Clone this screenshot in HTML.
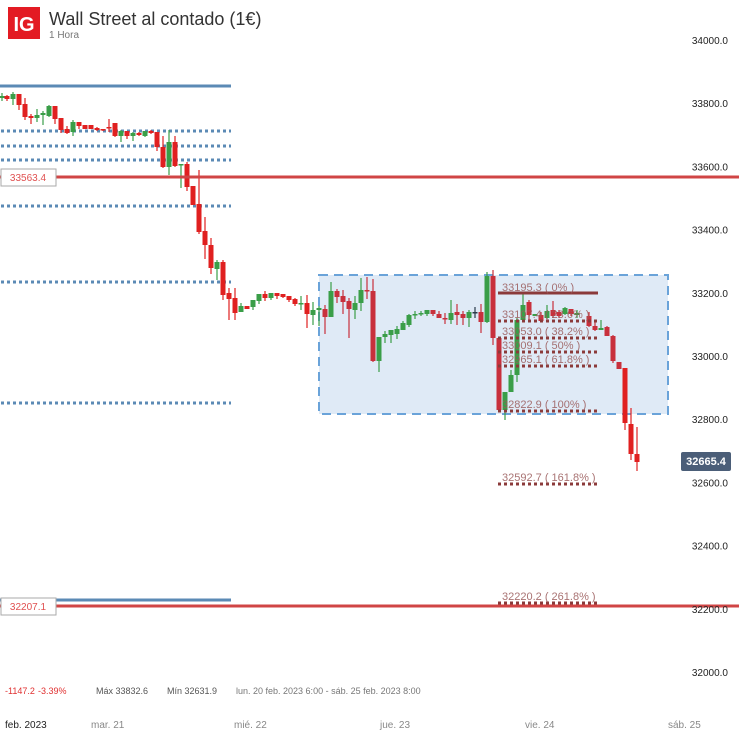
<!DOCTYPE html>
<html><head><meta charset="utf-8"><style>
body{margin:0;background:#fff;width:739px;height:734px;overflow:hidden;font-family:"Liberation Sans",sans-serif}
svg{display:block}
</style></head><body>
<svg id="s" width="739" height="734" xmlns="http://www.w3.org/2000/svg" font-family="Liberation Sans, sans-serif">
<rect x="8" y="7" width="32" height="32" fill="#e31b23"/>
<text x="24" y="31" fill="#fff" font-size="20" font-weight="bold" text-anchor="middle">IG</text>
<text x="49" y="25" fill="#333" font-size="18">Wall Street al contado (1€)</text>
<text x="49" y="38" fill="#777" font-size="10">1 Hora</text>
<rect x="319" y="275" width="349" height="139" fill="#dfeaf6" stroke="#6aa3d9" stroke-width="2" stroke-dasharray="9,6"/>
<g stroke="#5b8ab5" stroke-width="3">
<line x1="0" y1="86" x2="231" y2="86"/>
<line x1="0" y1="600" x2="231" y2="600"/>
</g>
<g stroke="#5b8ab5" stroke-width="3" stroke-dasharray="3,3">
<line x1="1" y1="131" x2="231" y2="131"/><line x1="1" y1="146" x2="231" y2="146"/>
<line x1="1" y1="160" x2="231" y2="160"/><line x1="1" y1="206" x2="231" y2="206"/>
<line x1="1" y1="282" x2="231" y2="282"/><line x1="1" y1="403" x2="231" y2="403"/>
</g>
<g id="c"></g>
<g stroke="#d04545" stroke-width="3">
<line x1="0" y1="177" x2="739" y2="177"/>
<line x1="0" y1="606" x2="739" y2="606"/>
</g>
<rect x="1" y="169" width="55" height="17" fill="#fff" stroke="#aaa"/>
<text x="28" y="181" fill="#e05050" font-size="10" text-anchor="middle">33563.4</text>
<rect x="1" y="598" width="55" height="17" fill="#fff" stroke="#aaa"/>
<text x="28" y="610" fill="#e05050" font-size="10" text-anchor="middle">32207.1</text>
<line x1="498" y1="293" x2="598" y2="293" stroke="#8b3a3a" stroke-width="3"/>
<g stroke="#8b3a3a" stroke-width="3" stroke-dasharray="3,3">
<line x1="498" y1="321" x2="597" y2="321"/><line x1="498" y1="338" x2="597" y2="338"/>
<line x1="498" y1="352" x2="597" y2="352"/><line x1="498" y1="366" x2="597" y2="366"/>
<line x1="498" y1="411" x2="597" y2="411"/><line x1="498" y1="484" x2="597" y2="484"/>
<line x1="498" y1="603" x2="597" y2="603"/>
</g>
<g fill="#9a5a5a" font-size="11" opacity="0.85">
<text x="502" y="291">33195.3 ( 0% )</text>
<text x="502" y="318">33107.4 ( 23.6% )</text>
<text x="502" y="335">33053.0 ( 38.2% )</text>
<text x="502" y="349">33009.1 ( 50% )</text>
<text x="502" y="363">32965.1 ( 61.8% )</text>
<text x="502" y="408">32822.9 ( 100% )</text>
<text x="502" y="481">32592.7 ( 161.8% )</text>
<text x="502" y="600">32220.2 ( 261.8% )</text>
</g>
<g fill="#222" font-size="10" text-anchor="end" id="ax"></g>
<rect x="681" y="452" width="50" height="19" rx="2" fill="#4b5e78"/>
<text x="706" y="465" fill="#fff" font-size="11" font-weight="bold" text-anchor="middle">32665.4</text>
<g font-size="9">
<text x="5" y="694" fill="#e03030">-1147.2</text>
<text x="38" y="694" fill="#e03030">-3.39%</text>
<text x="96" y="694" fill="#555">Máx 33832.6</text>
<text x="167" y="694" fill="#555">Mín 32631.9</text>
<text x="236" y="694" fill="#777">lun. 20 feb. 2023 6:00 - sáb. 25 feb. 2023 8:00</text>
</g>
<g font-size="10" fill="#888">
<text x="5" y="728" fill="#222">feb. 2023</text>
<text x="91" y="728">mar. 21</text>
<text x="234" y="728">mié. 22</text>
<text x="380" y="728">jue. 23</text>
<text x="525" y="728">vie. 24</text>
<text x="668" y="728">sáb. 25</text>
</g>
</svg>
<script>
var ax=document.getElementById('ax'),ns='http://www.w3.org/2000/svg';
for(var k=0;k<=10;k++){var t=document.createElementNS(ns,'text');t.setAttribute('x',728);t.setAttribute('y',44+k*63.2);t.textContent=(34000-k*200).toFixed(1);ax.appendChild(t);}
// x,top,bottom,wickTop,wickBottom,color(g/r/k)
var C=[[2,96,98,93,101,'g'],[7,96,99,95,101,'r'],[13,94,99,92,105,'g'],[19,94,105,94,110,'r'],[25,104,117,98,120,'r'],[31,116,118,114,124,'r'],[37,115,118,109,122,'g'],[43,113,115,111,125,'g'],[49,106,116,105,117,'g'],[55,106,119,106,124,'r'],[61,118,130,118,133,'r'],[67,129,133,126,134,'r'],[73,122,132,120,136,'g'],[79,122,126,122,129,'r'],[85,125,129,125,129,'r'],[91,125,129,125,129,'r'],[97,128,130,127,131,'r'],[103,129,130,129,131,'r'],[109,127,128,119,132,'r'],[115,123,136,123,137,'r'],[121,131,136,130,142,'g'],[127,131,136,131,139,'r'],[133,133,136,132,141,'g'],[139,133,135,132,136,'r'],[145,131,136,131,137,'g'],[151,131,133,130,134,'r'],[157,132,147,132,151,'r'],[163,147,167,136,168,'r'],[169,142,167,130,175,'g'],[175,142,166,136,167,'r'],[181,164,165,164,188,'g'],[187,164,187,162,191,'r'],[193,186,205,186,205,'r'],[199,204,232,170,234,'r'],[205,231,245,217,259,'r'],[211,245,268,238,274,'r'],[217,262,269,260,280,'g'],[223,262,295,260,300,'r'],[229,293,299,288,320,'r'],[235,298,313,288,320,'r'],[241,306,312,303,312,'g'],[247,306,309,306,309,'r'],[253,300,307,300,310,'g'],[259,294,301,294,304,'g'],[265,294,298,291,301,'r'],[271,293,298,293,300,'g'],[277,293,296,293,299,'r'],[283,294,297,294,298,'r'],[289,296,300,296,302,'r'],[295,299,304,298,306,'r'],[301,303,304,296,310,'g'],[307,303,314,295,328,'r'],[313,310,315,302,325,'g'],[319,308,310,306,326,'g'],[325,309,317,305,334,'r'],[331,291,317,282,317,'g'],[337,291,297,289,303,'r'],[343,296,302,290,314,'r'],[349,301,309,298,338,'r'],[355,303,310,296,319,'g'],[361,290,303,278,311,'g'],[367,290,291,277,299,'r'],[373,291,361,279,362,'r'],[379,337,361,337,372,'g'],[385,334,337,331,343,'g'],[391,330,335,330,343,'g'],[397,329,334,326,339,'g'],[403,323,330,321,330,'g'],[409,315,325,314,327,'g'],[415,314,315,311,319,'g'],[421,313,314,311,316,'g'],[427,310,314,310,316,'g'],[433,310,314,310,316,'r'],[439,314,318,311,318,'r'],[445,318,319,313,324,'r'],[451,313,320,300,324,'g'],[457,312,315,304,325,'r'],[463,314,318,311,325,'r'],[469,312,318,310,327,'g'],[475,312,313,307,318,'k'],[481,312,322,304,333,'r'],[487,276,322,272,323,'g'],[493,276,338,270,345,'r'],[499,338,410,337,412,'r'],[505,392,410,392,420,'g'],[511,375,392,370,392,'g'],[517,320,375,318,382,'g'],[523,305,320,293,320,'g'],[529,302,315,300,320,'r'],[535,314,316,314,316,'g'],[541,315,321,312,322,'r'],[547,311,318,305,319,'g'],[553,310,316,301,318,'r'],[559,312,316,310,318,'r'],[565,308,314,307,315,'g'],[571,309,314,309,316,'r'],[577,313,315,310,318,'g'],[589,316,326,312,327,'r'],[595,326,330,322,331,'r'],[601,328,330,320,330,'g'],[607,327,336,326,336,'r'],[613,336,361,335,363,'r'],[619,362,369,362,369,'r'],[625,368,423,368,430,'r'],[631,424,454,408,460,'r'],[637,454,462,427,471,'r']];
var g=document.getElementById('c'),col={g:'#3a9e48',r:'#e02020',k:'#2a3a4a'};
C.forEach(function(c){var f=col[c[5]];if(c[0]>318&&c[0]<625&&c[5]=='r')f='#c8303c';
var l=document.createElementNS(ns,'line');l.setAttribute('x1',c[0]);l.setAttribute('x2',c[0]);l.setAttribute('y1',c[3]);l.setAttribute('y2',c[4]);l.setAttribute('stroke',f);l.setAttribute('stroke-width',1.2);g.appendChild(l);
var r=document.createElementNS(ns,'rect');r.setAttribute('x',c[0]-2.5);r.setAttribute('width',5);r.setAttribute('y',c[1]);r.setAttribute('height',Math.max(1.5,c[2]-c[1]));r.setAttribute('fill',f);g.appendChild(r);});
</script>
</body></html>
